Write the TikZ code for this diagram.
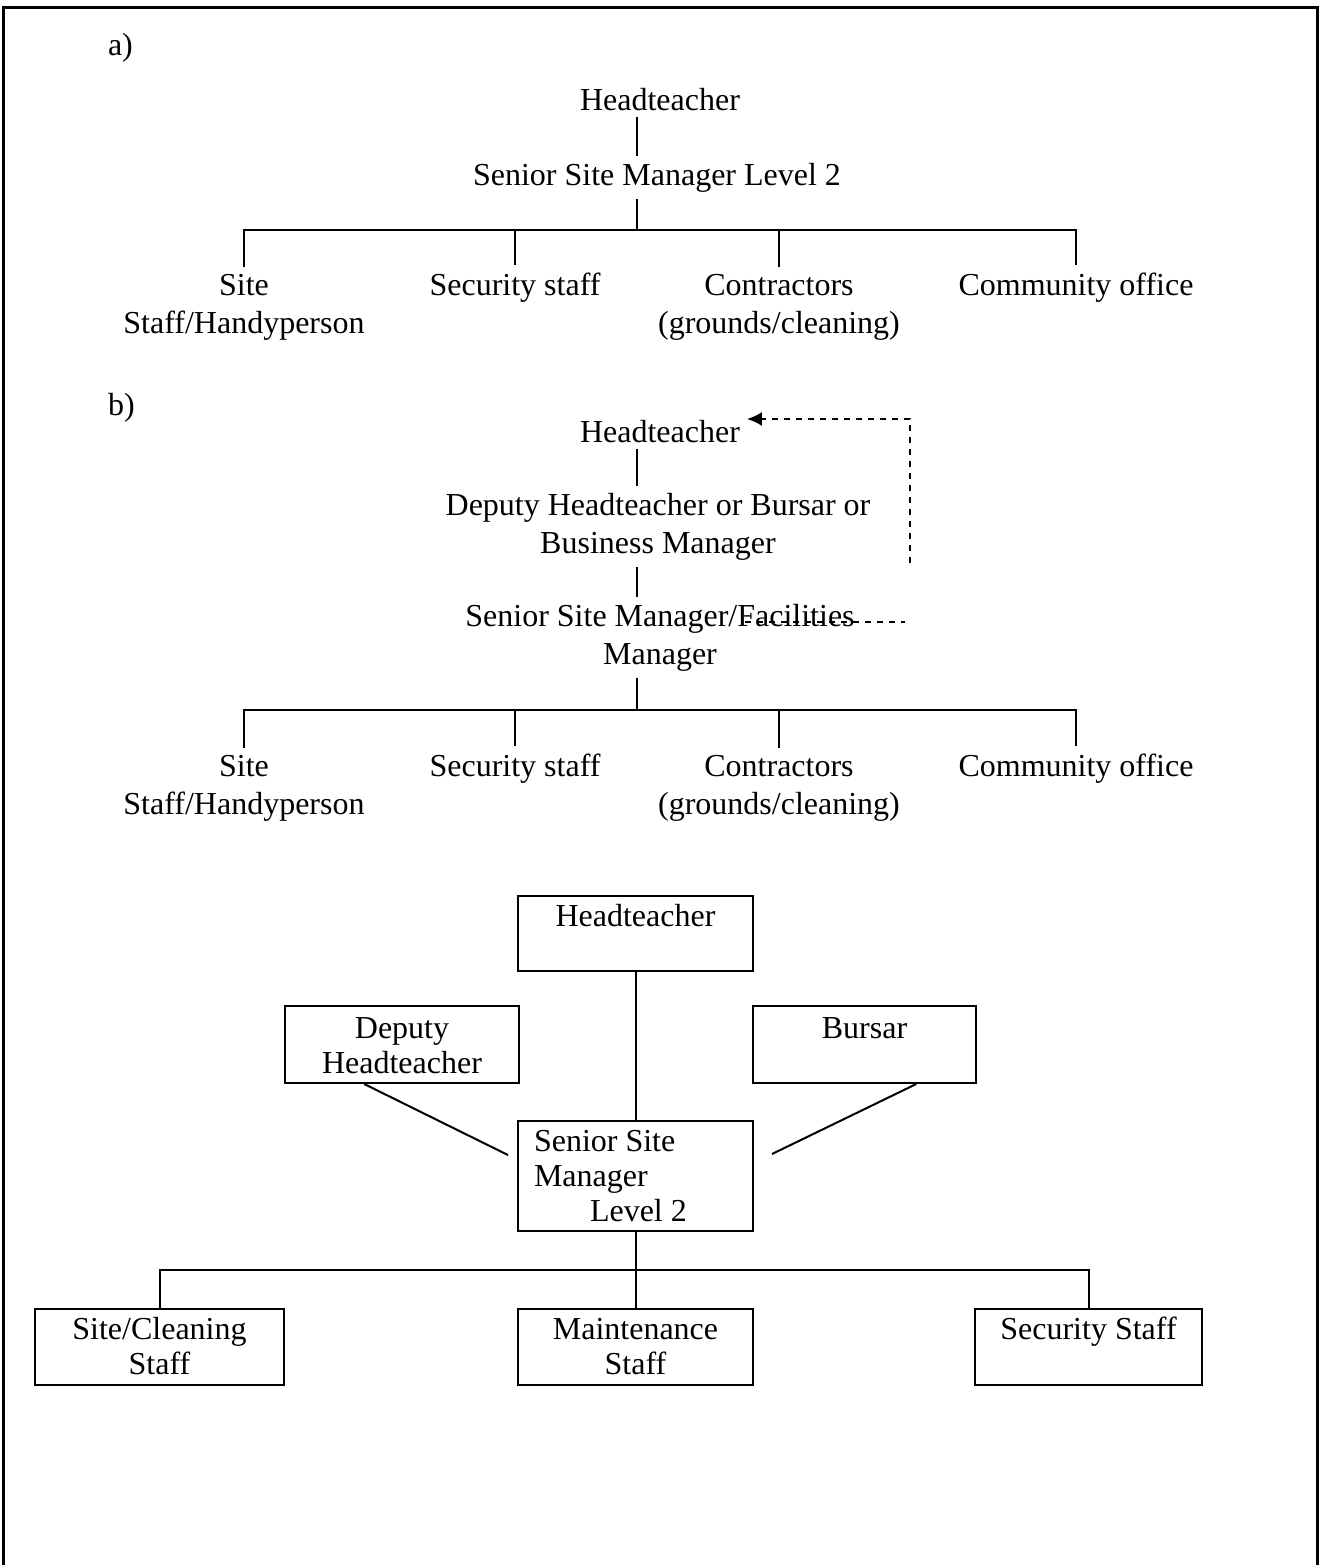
\documentclass[tikz,border=0pt]{standalone}
\usepackage{fontspec}
\setmainfont{Liberation Serif}
\usetikzlibrary{arrows.meta,calc}

\begin{document}
\begin{tikzpicture}[x=0.5pt,y=-0.5pt,
every node/.style={font=\fontsize{16}{19}\selectfont,inner sep=3pt},
txt/.style={anchor=base,align=center},
lbl/.style={anchor=base west,inner sep=0pt},
box/.style={draw,anchor=north,inner xsep=8pt,inner ysep=0pt,align=flush center,
  font=\fontsize{16}{17.5}\selectfont},
fback/.style={dashed,->,>={Latex[length=7.5pt,width=7pt]}},
every path/.style={line width=1pt}]
\useasboundingbox (0,0) rectangle (1319,1565);
\draw[line width=1.5pt] (3,1565) -- (3,7) -- (1317,7) -- (1317,1565);

\node[lbl] (lblA) at (107,55) {a)};
\node[txt] (hA) at (660,110) {Headteacher};
\node[txt] (ssmA) at (657,185) {Senior Site Manager Level 2};
\coordinate (barA) at (637,230);
\node[txt] (siteA) at (244,333) {Site\\Staff/Handyperson};
\node[txt] (secA) at (515,295) {Security staff};
\node[txt] (conA) at (779,333) {Contractors\\(grounds/cleaning)};
\node[txt] (comA) at (1076,295) {Community office};

\draw (hA.south -| barA) -- (ssmA.north -| barA);
\draw (ssmA.south -| barA) -- (barA);
\foreach \n in {siteA,secA,conA,comA}{
\draw (barA) -| (\n.north);
}

\node[lbl] (lblB) at (107,415) {b)};
\node[txt] (hB) at (660,442) {Headteacher};
\node[txt] (depB) at (658,553) {Deputy Headteacher or Bursar or\\Business Manager};
\node[txt] (ssmB) at (660,664) {Senior Site Manager/Facilities\\Manager};
\coordinate (barB) at (637,710);
\node[txt] (siteB) at (244,814) {Site\\Staff/Handyperson};
\node[txt] (secB) at (515,776) {Security staff};
\node[txt] (conB) at (779,814) {Contractors\\(grounds/cleaning)};
\node[txt] (comB) at (1076,776) {Community office};

\draw (hB.south -| barB) -- (depB.north -| barB);
\draw (depB.south -| barB) -- (ssmB.north -| barB);
\draw (ssmB.south -| barB) -- (barB);
\foreach \n in {siteB,secB,conB,comB}{
\draw (barB) -| (\n.north);
}

\coordinate (fmL) at (745,622);
\coordinate (fmR) at (905,622);
\coordinate (upB) at (910,563);
\coordinate (upT) at (910,419);
\draw[dashed] (fmL) -- (fmR);
\draw[fback] (upB) -- (upT) -- (hB.east |- upT);

\node[box,text width=101.5pt,text height=15pt,text depth=22.5pt] (hC) at (635.5,895) {Headteacher};
\node[box,text width=101pt,text height=16pt,text depth=22.5pt] (depC) at (402,1005) {Deputy\\Headteacher};
\node[box,text width=95.5pt,text height=16pt,text depth=22.5pt] (burC) at (864.5,1005) {Bursar};
\node[box,text width=101.5pt,align=flush left,text height=15pt,text depth=40pt] (ssmC) at (635.5,1120) {Senior Site\\Manager\\\hspace*{28pt}Level 2};
\node[box,text width=108.5pt,text height=15pt,text depth=23pt] (siteC) at (159.5,1308) {Site/Cleaning\\Staff};
\node[box,text width=101.5pt,text height=15pt,text depth=23pt] (mainC) at (635.5,1308) {Maintenance\\Staff};
\node[box,text width=97.5pt,text height=15pt,text depth=23pt] (secC) at (1088.5,1308) {Security Staff};

\coordinate (dl) at (508,1155);
\coordinate (br) at (772,1154);
\coordinate (barC) at (635.5,1270);
\draw (hC) -- (ssmC);
\draw ($(depC.south west)!0.34!(depC.south east)$) -- (dl);
\draw ($(burC.south west)!0.73!(burC.south east)$) -- (br);
\draw (ssmC) -- (barC);
\foreach \n in {siteC,mainC,secC}{
\draw (barC) -| (\n.north);
}
\end{tikzpicture}
\end{document}
